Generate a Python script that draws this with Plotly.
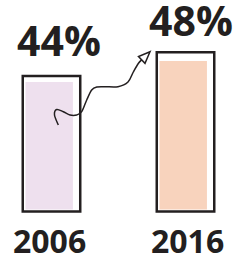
import plotly.graph_objects as go

# ---- data ----
years = ["2006", "2016"]
shares = [44, 48]
labels = ["44%", "48%"]
fill_colors = ["#eee0ee", "#f8d3bd"]

W, H = 245, 259
INK = "#231f20"
FONT = "Open Sans"

# axis baselines (the reference chart does not start at zero)
FILL_BASE = 19.7
BOX_BASE = 21.23
X_RANGE = [-0.3843, 1.444]
Y1_RANGE = [10.29, 59.62]
Y2_RANGE = [13.24, 56.77]

fig = go.Figure()

# soft colour fills (slightly offset, sketch style)
fig.add_trace(go.Bar(
    x=years, y=[v - FILL_BASE for v in shares], base=FILL_BASE, yaxis="y",
    width=0.354, offset=-0.194,
    marker=dict(color=fill_colors, line=dict(width=0)),
    hoverinfo="skip", showlegend=False,
))
# dark outline boxes
fig.add_trace(go.Bar(
    x=years, y=[v - BOX_BASE for v in shares], base=BOX_BASE, yaxis="y2",
    width=0.429,
    marker=dict(color="rgba(0,0,0,0)", line=dict(color=INK, width=2.5)),
    hoverinfo="skip", showlegend=False,
))


def xpaper(i):
    return (i - X_RANGE[0]) / (X_RANGE[1] - X_RANGE[0])


def ypaper(v):
    return (v - Y2_RANGE[0]) / (Y2_RANGE[1] - Y2_RANGE[0])


# value labels above the boxes
for i, (v, t) in enumerate(zip(shares, labels)):
    fig.add_annotation(x=xpaper(i), y=ypaper(v), xref="paper", yref="paper", text=t,
                       showarrow=False, xanchor="center", yanchor="middle",
                       xshift=[7.5, 5][i], yshift=[36, 32][i],
                       font=dict(family=FONT, size=41, color=INK, weight="bold"))
# year labels below
for i, yr in enumerate(years):
    fig.add_annotation(x=xpaper(i), y=1 - 240 / H, xref="paper", yref="paper",
                       text=yr, showarrow=False, xanchor="center", yanchor="middle",
                       xshift=[-1.5, 1.5][i],
                       font=dict(family=FONT, size=32, color=INK, weight="bold"))

# decorative hand-drawn squiggly arrow (pixel sketch -> paper coords)
pts = [(58.3, 125), (54.5, 115), (56.7, 109.5), (63.3, 111.7), (70, 115),
       (76.7, 115), (81.7, 111.7), (86.7, 100), (91.7, 90), (97, 87),
       (105, 86.7), (118, 86.7), (128, 82), (133.3, 72), (138.3, 63.5),
       (142, 59.5)]


def P(p):
    return (p[0] / W, 1 - p[1] / H)


path = "M {:.5f},{:.5f}".format(*P(pts[0]))
for i in range(len(pts) - 1):
    p0 = pts[i - 1] if i > 0 else pts[i]
    p1 = pts[i]
    p2 = pts[i + 1]
    p3 = pts[i + 2] if i + 2 < len(pts) else pts[i + 1]
    c1 = (p1[0] + (p2[0] - p0[0]) / 6, p1[1] + (p2[1] - p0[1]) / 6)
    c2 = (p2[0] - (p3[0] - p1[0]) / 6, p2[1] - (p3[1] - p1[1]) / 6)
    path += " C {:.5f},{:.5f} {:.5f},{:.5f} {:.5f},{:.5f}".format(*P(c1), *P(c2), *P(p2))
fig.add_shape(type="path", path=path, xref="paper", yref="paper",
              line=dict(color=INK, width=1.5))
head = [(150, 51.7), (138.5, 56.5), (145, 63.3)]
hp = "M {:.5f},{:.5f} L {:.5f},{:.5f} L {:.5f},{:.5f} Z".format(*P(head[0]), *P(head[1]), *P(head[2]))
fig.add_shape(type="path", path=hp, xref="paper", yref="paper",
              line=dict(color=INK, width=1.5), fillcolor="white")

fig.update_layout(
    width=W, height=H,
    margin=dict(l=0, r=0, t=0, b=0),
    paper_bgcolor="white", plot_bgcolor="white",
    xaxis=dict(type="category", range=X_RANGE, visible=False, fixedrange=True),
    yaxis=dict(range=Y1_RANGE, visible=False, fixedrange=True),
    yaxis2=dict(range=Y2_RANGE, visible=False, overlaying="y", fixedrange=True),
    barmode="overlay",
    showlegend=False,
)

fig.write_html("out.html", config={"displayModeBar": False},
               post_script="document.body.style.margin='0';document.body.style.overflow='hidden';")
